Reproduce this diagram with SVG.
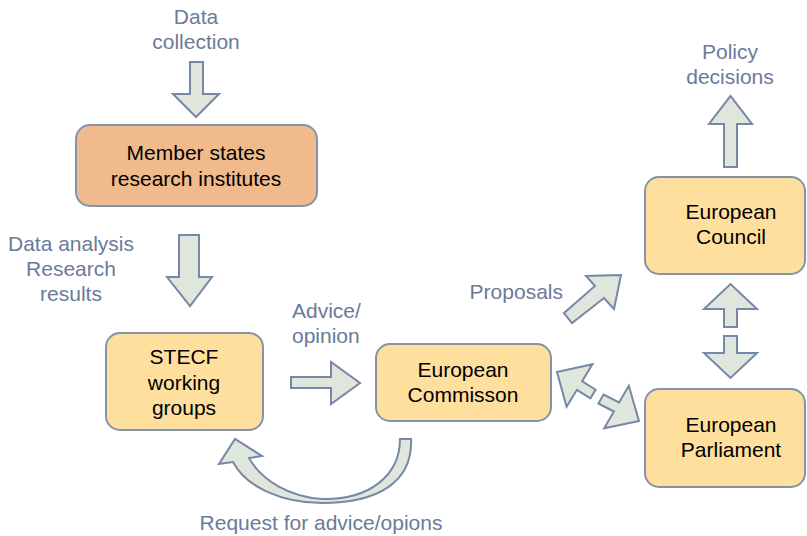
<svg xmlns="http://www.w3.org/2000/svg" width="807" height="536" viewBox="0 0 807 536">
<style>
.box{fill:#FEDF9E;stroke:#8393AD;stroke-width:2}
.orange{fill:#F0BA8C}
.arr{fill:#DFE6DC;stroke:#7788A6;stroke-width:2;stroke-linejoin:miter}
.nt{font-family:"Liberation Sans",Arial,sans-serif;font-size:21px;fill:#000;text-anchor:middle}
.lb{font-family:"Liberation Sans",Arial,sans-serif;font-size:21px;fill:#6A7A9A;text-anchor:middle}
</style>
<rect width="807" height="536" fill="#fff"/>
<g id="connectors">
<polygon class="arr" points="190,62 203,62 203,94 219,94 196,117 173,94 190,94"/>
<polygon class="arr" points="179,235 199,235 199,277 212,277 190,306 167,277 179,277"/>
<polygon class="arr" points="291,377 331,377 331,362 360,383 331,404 331,388 291,388"/>
<polygon class="arr" points="724,167 737,167 737,124 752,124 730.5,96 709,124 724,124"/>
<polygon class="arr" points="724,327 737,327 737,309 757,309 730.5,284 704,309 724,309"/>
<polygon class="arr" points="724,336 737,336 737,353 757,353 730.5,378 704,353 724,353"/>
<polygon class="arr" points="564,313 595,286 586,276 621,275 614,309 604,298 572,323"/>
<polygon class="arr" points="557,372 592.4,364.3 582.1,381.2 595.6,389.7 590.4,398.3 576.9,389.8 566.6,406.7"/>
<polygon class="arr" points="639,421 604.2,428.2 613.9,411.5 598.4,403.5 603.6,394.5 619.1,402.5 628.8,385.8"/>
<path class="arr" d="M411,439 C413,482 378,503 322,503 C282,503 246,487 233,462 L219,464 L235,439 L262,456 L249,458 C262,481 290,497 322,499 C370,500 400,475 400,439 Z"/>
</g>
<g id="label-data-collection"><text class="lb" x="196" y="24">Data</text><text class="lb" x="196" y="49">collection</text></g>
<g id="label-data-analysis"><text class="lb" x="71" y="251">Data analysis</text><text class="lb" x="71" y="276">Research</text><text class="lb" x="71" y="301">results</text></g>
<g id="label-advice"><text class="lb" x="292" y="318" text-anchor="start" style="text-anchor:start">Advice/</text><text class="lb" x="292" y="343" style="text-anchor:start">opinion</text></g>
<g id="label-proposals"><text class="lb" x="563" y="299" style="text-anchor:end">Proposals</text></g>
<g id="label-policy"><text class="lb" x="730" y="59">Policy</text><text class="lb" x="730" y="84">decisions</text></g>
<g id="label-request"><text class="lb" x="321" y="530">Request for advice/opions</text></g>
<g id="member-states"><rect class="box orange" x="76" y="125" width="241" height="81" rx="14"/><text class="nt" x="196" y="160">Member states</text><text class="nt" x="196" y="186">research institutes</text></g>
<g id="stecf"><rect class="box" x="106" y="333" width="157" height="97" rx="14"/><text class="nt" x="184" y="364">STECF</text><text class="nt" x="184" y="390">working</text><text class="nt" x="184" y="415">groups</text></g>
<g id="commission"><rect class="box" x="376" y="344" width="175" height="77" rx="14"/><text class="nt" x="463" y="377">European</text><text class="nt" x="463" y="402">Commisson</text></g>
<g id="council"><rect class="box" x="645" y="177" width="160" height="97" rx="14"/><text class="nt" x="731" y="219">European</text><text class="nt" x="731" y="244">Council</text></g>
<g id="parliament"><rect class="box" x="645" y="389" width="160" height="98" rx="14"/><text class="nt" x="731" y="432">European</text><text class="nt" x="731" y="457">Parliament</text></g>
</svg>
